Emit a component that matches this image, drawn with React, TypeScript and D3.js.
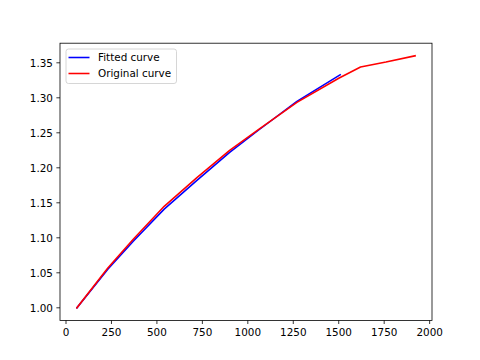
import React from 'react';
import * as d3 from 'd3';

// original measured curve
const originalX = [60, 230, 370, 540, 720, 900, 1060, 1270, 1500, 1620, 1760, 1920];
const originalY = [1.0, 1.057, 1.098, 1.145, 1.186, 1.225, 1.255, 1.2935, 1.328, 1.344, 1.351, 1.36];

// fitted curve
const fittedX = [60, 230, 370, 540, 720, 900, 1060, 1270, 1508];
const fittedY = [1.0, 1.055, 1.095, 1.141, 1.182, 1.222, 1.254, 1.295, 1.333];

const xTicks = [0, 250, 500, 750, 1000, 1250, 1500, 1750, 2000];
const yTicks = [1.0, 1.05, 1.1, 1.15, 1.2, 1.25, 1.3, 1.35];

const width = 480;
const height = 360;
const left = 60;
const right = 432;
const top = 43.2;
const bottom = 320.4;
const font = 'DejaVu Sans, sans-serif';
const fontSize = 10.4;
const tickLen = 3.6;

export default function App() {
    const allX = originalX.concat(fittedX);
    const allY = originalY.concat(fittedY);
    const [x0, x1] = d3.extent(allX) as [number, number];
    const [y0, y1] = d3.extent(allY) as [number, number];
    const px = (x1 - x0) * 0.05;
    const py = (y1 - y0) * 0.05;

    const x = d3.scaleLinear().domain([x0 - px, x1 + px]).range([left, right]);
    const y = d3.scaleLinear().domain([y0 - py, y1 + py]).range([bottom, top]);

    const line = d3.line<[number, number]>()
        .x(d => x(d[0]))
        .y(d => y(d[1]));

    const fitted = fittedX.map((v, i) => [v, fittedY[i]] as [number, number]);
    const original = originalX.map((v, i) => [v, originalY[i]] as [number, number]);

    const legendItems = [
        { label: 'Fitted curve', color: '#0000ff' },
        { label: 'Original curve', color: '#ff0000' },
    ];

    return (
        <svg width={width} height={height} style={{ position: 'absolute', left: 0, top: 0, background: '#fff' }}>
            <rect x={0} y={0} width={width} height={height} fill="#fff" />
            <path d={line(fitted) || ''} fill="none" stroke="#0000ff" strokeWidth={1.56} strokeLinejoin="round" strokeLinecap="square" />
            <path d={line(original) || ''} fill="none" stroke="#ff0000" strokeWidth={1.56} strokeLinejoin="round" strokeLinecap="square" />

            <rect x={left} y={top} width={right - left} height={bottom - top} fill="none" stroke="#000" strokeWidth={0.8} />

            {xTicks.map(t => (
                <g key={'x' + t} transform={`translate(${x(t)},${bottom})`}>
                    <line y2={tickLen} stroke="#000" strokeWidth={0.8} />
                    <text y={tickLen + 3.5 + fontSize * 0.78} textAnchor="middle" fontFamily={font} fontSize={fontSize}>{t}</text>
                </g>
            ))}
            {yTicks.map(t => (
                <g key={'y' + t} transform={`translate(${left},${y(t)})`}>
                    <line x2={-tickLen} stroke="#000" strokeWidth={0.8} />
                    <text x={-tickLen - 3.5} dy="0.36em" textAnchor="end" fontFamily={font} fontSize={fontSize}>{d3.format('.2f')(t)}</text>
                </g>
            ))}

            <g transform="translate(66,49)">
                <rect width={110.5} height={34.5} rx={2.5} fill="#fff" fillOpacity={0.8} stroke="#cccccc" strokeWidth={0.8} />
                {legendItems.map((d, i) => (
                    <g key={d.label} transform={`translate(0,${8.5 + i * 16})`}>
                        <line x1={2.5} x2={23.5} y1={0} y2={0} stroke={d.color} strokeWidth={1.56} />
                        <text x={32} dy="0.36em" fontFamily={font} fontSize={fontSize}>{d.label}</text>
                    </g>
                ))}
            </g>
        </svg>
    );
}
